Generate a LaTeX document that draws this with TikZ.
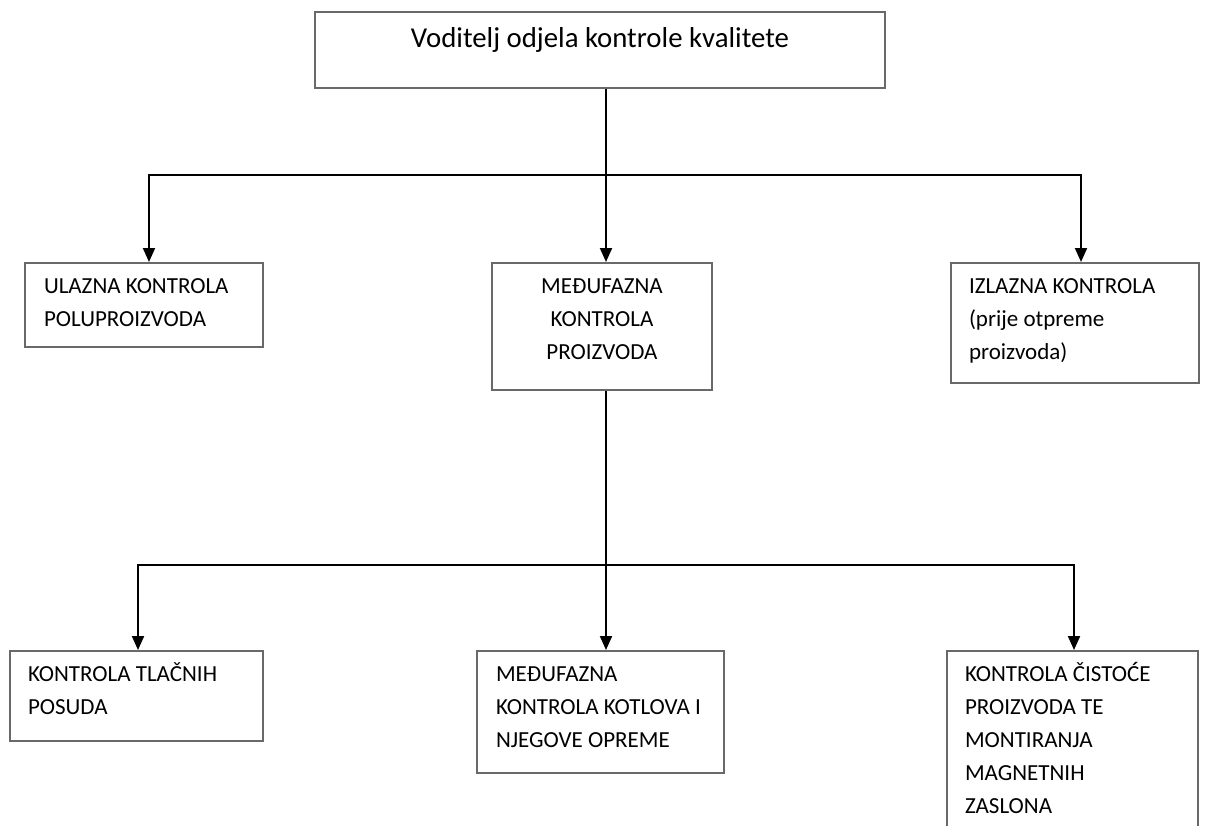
\documentclass[tikz,border=0pt]{standalone}
\usepackage{fontspec}
\setmainfont{Carlito}
\usetikzlibrary{arrows.meta,positioning}
\definecolor{boxgray}{RGB}{105,105,105}
\newcommand{\boxtxt}[3]{\parbox[c][#2][t]{#1}{\raggedright\strut #3}}

\begin{document}
\begin{tikzpicture}[x=0.5pt,y=-0.5pt,>={Triangle[length=7pt,width=6pt]},
	every node/.style={font=\fontsize{11.5pt}{16.5pt}\selectfont},
	box/.style={draw=boxgray,line width=1pt,anchor=north west,inner xsep=9pt,inner ysep=3.9pt},
	head/.style={box,inner xsep=0pt,inner ysep=5.4pt,font=\fontsize{14.4pt}{17.3pt}\selectfont},
	conn/.style={line width=1pt}]
		\clip (0,0) rectangle (1213,825);
		\node[head] (vod) at (314,11) {\boxtxt{285pt}{27.2pt}{\centering Voditelj odjela kontrole kvalitete}};

		\node[box,inner xsep=9.5pt] (ulaz) at (24,262) {\boxtxt{100pt}{34.2pt}{ULAZNA KONTROLA\\POLUPROIZVODA}};
		\node[box,inner xsep=5pt] (med) at (491,262) {\boxtxt{100pt}{55.7pt}{\centering MEĐUFAZNA\\KONTROLA\\PROIZVODA}};
		\node[box] (izlaz) at (950,262) {\boxtxt{106pt}{52.2pt}{IZLAZNA KONTROLA\\(prije otpreme\\proizvoda)}};

		\node[box] (tlak) at (9,650) {\boxtxt{108.5pt}{37.2pt}{KONTROLA TLAČNIH\\POSUDA}};
		\node[box,inner xsep=9.5pt] (kotl) at (476,650) {\boxtxt{104.5pt}{53.2pt}{MEĐUFAZNA\\KONTROLA KOTLOVA I\\NJEGOVE OPREME}};
		\node[box] (cist) at (946,650) {\boxtxt{107.5pt}{92.2pt}{KONTROLA ČISTOĆE\\PROIZVODA TE\\MONTIRANJA\\MAGNETNIH\\ZASLONA}};

		% first level
		\coordinate (j1) at (606,175);
		\draw[conn] (vod.south -| j1) -- (j1);
		\draw[conn,->] (j1) -| ([xshift=2.5pt]ulaz.north);
		\draw[conn,->] (j1) -- (j1 |- med.north);
		\draw[conn,->] (j1) -| ([xshift=3pt]izlaz.north);

		% second level
		\coordinate (j2) at (606,565);
		\draw[conn] (med.south -| j2) -- (j2);
		\draw[conn,->] (j2) -| ([xshift=0.75pt]tlak.north);
		\draw[conn,->] (j2) -- (j2 |- kotl.north);
		\draw[conn,->] (j2) -| ([xshift=0.75pt]cist.north);
\end{tikzpicture}
\end{document}
